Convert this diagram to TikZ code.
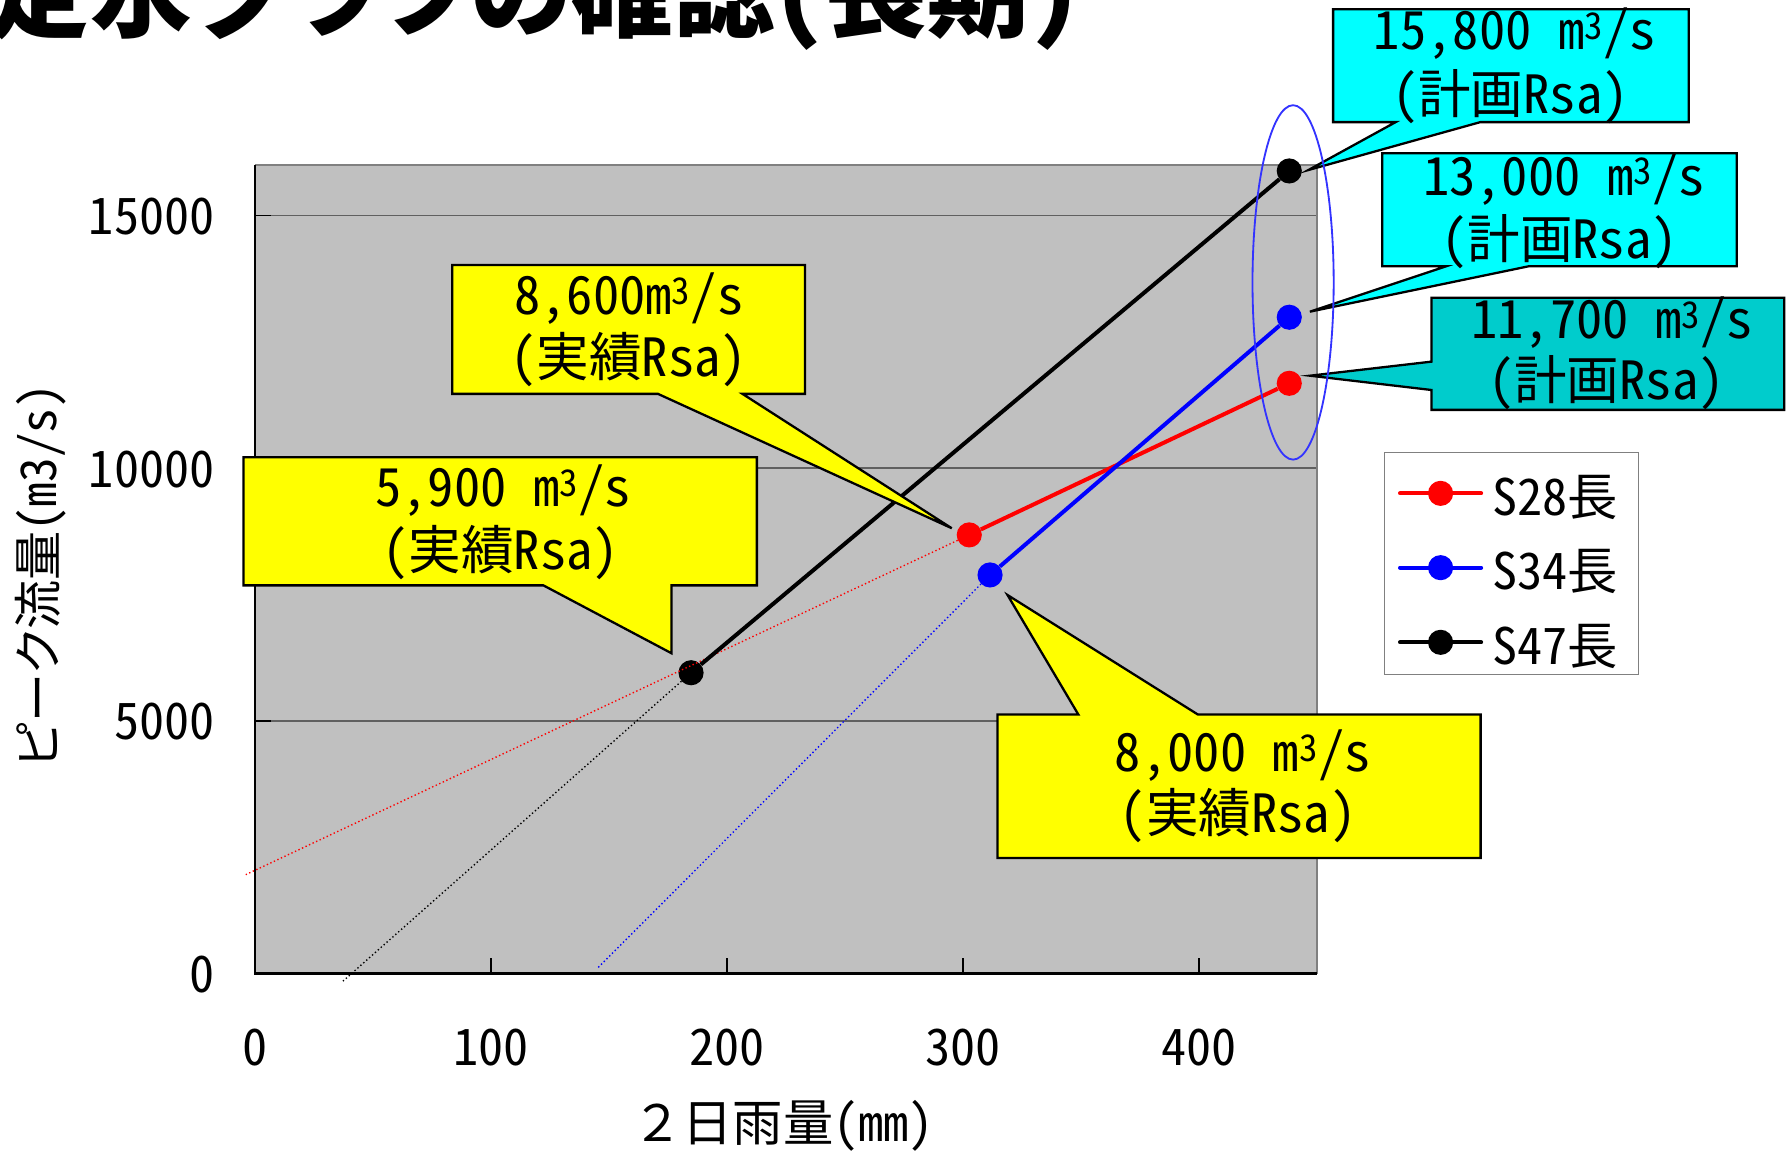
\documentclass[tikz,border=0pt]{standalone}
\usepackage{fontspec}
\setmainfont{Noto Sans CJK JP}[RawFeature=+hwid,RawFeature=+palt]
\newfontfamily\jpfull{Noto Sans CJK JP}
\usetikzlibrary{positioning,calc}
\definecolor{plotgrey}{HTML}{C0C0C0}
\definecolor{framegrey}{HTML}{808080}
\definecolor{gridgrey}{HTML}{606060}
\definecolor{callyellow}{HTML}{FFFF00}
\definecolor{callcyan}{HTML}{00FFFF}
\definecolor{calldcyan}{HTML}{00CCCC}
\definecolor{ringblue}{HTML}{3333FF}
\newcommand\cms{m\textsuperscript{3}/s}
\tikzset{
  datadot/.style={circle,inner sep=0pt,minimum size=22pt},
  series/.style={line width=3.5pt},
  trend/.style={line width=1.2pt,dash pattern=on 1.2pt off 2.2pt},
  callout/.style={draw=black,line width=2pt},
  calltext/.style={anchor=base,inner sep=0pt,font=\fontsize{46}{52}\selectfont},
  ticklabel/.style={inner sep=0pt,font=\fontsize{44}{52}\selectfont},
  plotarea/.style={shift={(223pt,-851.5pt)},x=2.064pt,y=0.0442pt}
}
\begin{document}
\begin{tikzpicture}[x=1pt,y=-1pt]

\useasboundingbox (0,0) rectangle (1563,1007.6);
\fill[white] (0,0) rectangle (1563,1007.6);

\node[anchor=base east,inner sep=0pt,
  font=\fontsize{89}{100}\selectfont\bfseries] (title) at (945,26)
  {定水グラフの確認（長期）};

\begin{scope}[plotarea]
  \fill[plotgrey] (0,0) rectangle (450,16000);
  \foreach \q in {5000,10000,15000}
    \draw[gridgrey,line width=1.3pt] (0,\q) -- (450,\q);
  \draw[framegrey,line width=2pt] (0,16000) -- (450,16000) -- (450,0);
  \draw[line width=2pt] (0,16000) -- (0,0) -- (450,0);
  \foreach \v in {100,200,300,400}
    \draw[line width=1.2pt] (\v,0) -- ++(0pt,13.7pt);
  \foreach \q in {5000,10000,15000}
    \draw[line width=1.2pt] (0,\q) -- ++(13.7pt,0pt);

  \foreach \v in {0,100,200,300,400}
    \node[ticklabel,yshift=-64.5pt] (xl-\v) at (\v,0) {\v};
  \foreach \q in {0,5000,10000,15000}
    \node[ticklabel,anchor=east,xshift=-35pt,yshift=-1pt] (yl-\q) at (0,\q) {\q};

  % data points
  \node[datadot,fill=red] (s28a) at (302.7,8679) {};
  \node[datadot,fill=red] (s28b) at (438.3,11679) {};
  \node[datadot,fill=blue] (s34a) at (311.5,7887) {};
  \node[datadot,fill=blue] (s34b) at (438.3,12986) {};
  \node[datadot,fill=black] (s47a) at (184.8,5952) {};
  \node[datadot,fill=black] (s47b) at (438.3,15880) {};
  \coordinate (s28o) at (-3.9,1957);
  \coordinate (s34o) at (145.5,122);
  \coordinate (s47o) at (37.3,-150);

  \draw[trend,red] (s28a) -- (s28o);
  \draw[trend,blue] (s34a) -- (s34o);
  \draw[trend,black] (s47a) -- (s47o);
  \draw[series,red] (s28a) -- (s28b);
  \draw[series,blue] (s34a) -- (s34b);
  \draw[series,black] (s47a) -- (s47b);
\end{scope}

\node[inner sep=0pt,font=\fontsize{44}{50}\selectfont] (xtitle) at (685,985)
  {{\jpfull ２}日雨量（mm）};
\node[inner sep=0pt,rotate=90,font=\fontsize{43}{50}\selectfont] (ytitle) at (35.5,504)
  {ピーク流量（m3/s）};

% legend
\draw[framegrey,fill=white,line width=1.2pt] (1211,395.5) rectangle (1433,590);
\foreach \c/\t/\y [count=\i] in {red/S28長/431.5,blue/S34長/496.5,black/S47長/561.8}{
  \draw[series,\c,line cap=round] (1224.5,\y) -- (1295.5,\y);
  \node[datadot,fill=\c] (leg\i) at (1260,\y) {};
  \node[anchor=base west,inner sep=0pt,font=\fontsize{44}{50}\selectfont]
    (legt\i) at (1305,\y+19) {\t};
}

% callouts
\coordinate (tip8600) at (832.4,462);
\coordinate (tip5900) at (587.4,571.4);
\coordinate (tip8000) at (881.2,520.4);
\coordinate (tip15800) at (1144.4,148.7);
\coordinate (tip13000) at (1145.7,272.6);
\coordinate (tip11700) at (1145.7,328.6);

\draw[callout,fill=callyellow] (395.6,231.8) -- (704,231.8) -- (704,344.5)
  -- (649.4,344.5) -- (tip8600) -- (575.5,344.5) -- (395.6,344.5) -- cycle;
\node[calltext] (lab8600a) at (550,275.5) {8,600\cms};
\node[calltext] (lab8600b) at (550,329.5) {（実績Rsa）};

\draw[callout,fill=callyellow] (213,400) -- (662,400) -- (662,512)
  -- (587.4,512) -- (tip5900) -- (475.3,512) -- (213,512) -- cycle;
\node[calltext] (lab5900a) at (440,443) {5,900\hspace{0.5em}\cms};
\node[calltext] (lab5900b) at (438,498.5) {（実績Rsa）};

\draw[callout,fill=callyellow] (872.5,625) -- (943.2,625) -- (tip8000)
  -- (1047.8,625) -- (1295,625) -- (1295,750.5) -- (872.5,750.5) -- cycle;
\node[calltext] (lab8000a) at (1087,675) {8,000\hspace{0.5em}\cms};
\node[calltext] (lab8000b) at (1083,728.5) {（実績Rsa）};

\draw[callout,fill=callcyan] (1166,8) -- (1477,8) -- (1477,106.8)
  -- (1294.8,106.8) -- (tip15800) -- (1220.7,106.8) -- (1166,106.8) -- cycle;
\node[calltext] (lab15800a) at (1325,43.7) {15,800\hspace{0.5em}\cms};
\node[calltext] (lab15800b) at (1321,99) {（計画Rsa）};

\draw[callout,fill=callcyan] (1209,134) -- (1519,134) -- (1519,232.8)
  -- (1337.5,232.8) -- (tip13000) -- (1265.1,232.8) -- (1209,232.8) -- cycle;
\node[calltext] (lab13000a) at (1368,170.6) {13,000\hspace{0.5em}\cms};
\node[calltext] (lab13000b) at (1364,225.9) {（計画Rsa）};

\draw[callout,fill=calldcyan] (1252,260.5) -- (1560.5,260.5) -- (1560.5,358.5)
  -- (1252,358.5) -- (1252,341.1) -- (tip11700) -- (1252,316.3) -- cycle;
\node[calltext] (lab11700a) at (1410,296) {11,700\hspace{0.5em}\cms};
\node[calltext] (lab11700b) at (1405,349.8) {（計画Rsa）};

\draw[ringblue,line width=1.6pt] (1131,247) ellipse [x radius=35.5,y radius=155];

\end{tikzpicture}
\end{document}
